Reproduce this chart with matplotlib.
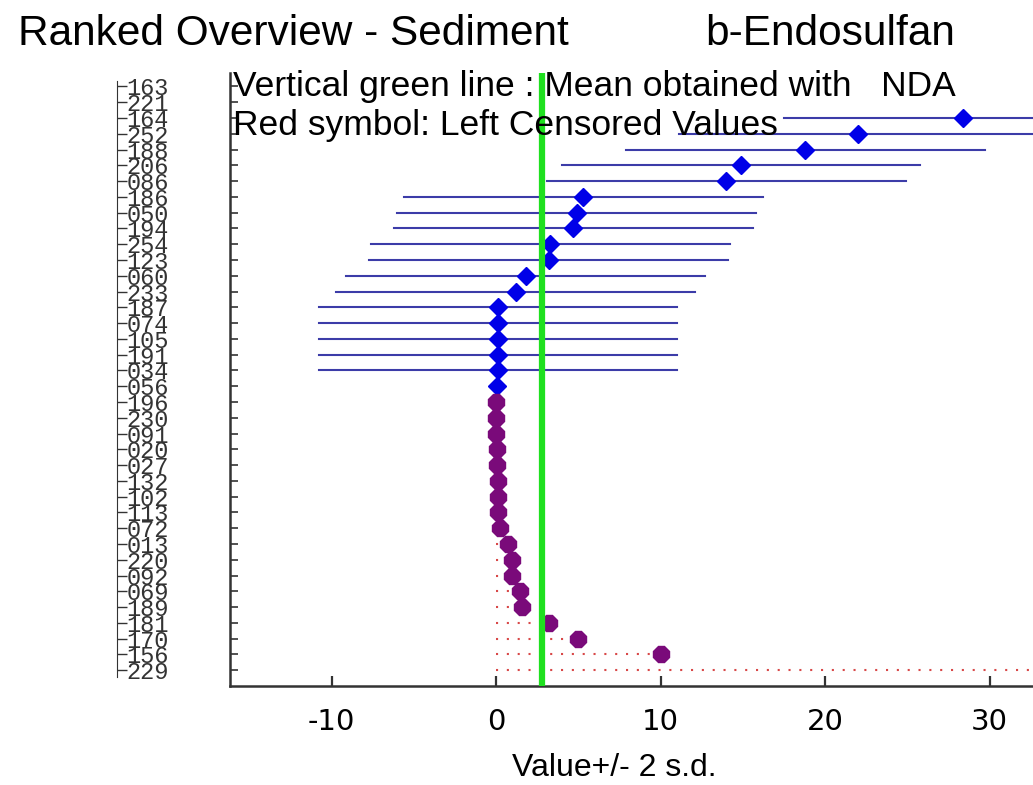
import matplotlib
matplotlib.use("Agg")
import matplotlib.pyplot as plt

plt.rcParams["axes.unicode_minus"] = False

# lab codes, ranked top to bottom
labs = ["163", "221", "164", "252", "188", "206", "086", "186", "050", "194",
        "254", "123", "060", "233", "187", "074", "105", "191", "034", "056",
        "196", "230", "091", "020", "027", "132", "102", "113", "072", "013",
        "220", "092", "069", "189", "181", "170", "156", "229"]
# reported values (first two and last one fall beyond the visible range)
values = [55.0, 48.0, 28.4, 22.0, 18.8, 14.9, 14.0, 5.3, 4.9, 4.7,
          3.3, 3.2, 1.8, 1.2, 0.12, 0.12, 0.12, 0.12, 0.12, 0.03,
          0.0, 0.0, 0.02, 0.03, 0.05, 0.1, 0.12, 0.15, 0.25, 0.7,
          0.95, 1.0, 1.45, 1.6, 3.2, 5.0, 10.0, 50.0]
two_sd = [10.9] * 19 + [0.0] * 19
censored = [False] * 20 + [True] * 18
mean_nda = 2.8

n = len(labs)
ypos = [n - i for i in range(n)]

fig = plt.figure(figsize=(10.33, 7.85), dpi=100)
W, H = 1033.0, 785.0
ax = fig.add_axes([230 / W, 99 / H, (W - 230) / W, 613 / H])
ax.set_xlim(-16.17, 32.64)
ax.set_ylim(0, n + 0.85)

for v, s, c, y in zip(values, two_sd, censored, ypos):
    if c:
        ax.plot([0, v], [y, y], color="#d84848", lw=1.5,
                linestyle=(0, (1, 4.2)), zorder=1)
        ax.plot(v, y, marker="8", ms=12, color="#7a0a7a", zorder=3)
    else:
        if s > 0:
            ax.plot([v - s, v + s], [y, y], color="#3c3ca8", lw=1.5, zorder=1)
        ax.plot(v, y, marker="D", ms=9, color="#0000e8", zorder=3)

ax.axvline(mean_nda, color="#1fe01f", lw=4.5, zorder=4)

for sp in ["top", "right"]:
    ax.spines[sp].set_visible(False)
for sp in ["left", "bottom"]:
    ax.spines[sp].set_color("#333333")
    ax.spines[sp].set_linewidth(1.8)

ax.set_yticks(ypos)
ax.set_yticklabels([])
ax.tick_params(axis="y", direction="in", length=5.5, width=1.2, color="#333333")
ax.set_xticks([-10, 0, 10, 20, 30])
ax.tick_params(axis="x", direction="in", length=7, width=1.6, color="#333333",
               labelsize=21, pad=16)
for t in ax.get_xticklabels():
    t.set_family("DejaVu Sans")
ax.set_xlabel("Value+/- 2 s.d.", fontsize=23, family="Liberation Sans")
ax.xaxis.set_label_coords(0.479, -0.11)

# separate label column on the left
ax2 = fig.add_axes([117 / W, 99 / H, 0.06, 613 / H])
ax2.set_ylim(0, n + 0.85)
ax2.patch.set_visible(False)
for sp in ["top", "right", "bottom"]:
    ax2.spines[sp].set_visible(False)
ax2.spines["left"].set_bounds(0.6, n + 0.35)
ax2.spines["left"].set_color("#333333")
ax2.set_xticks([])
ax2.set_yticks(ypos, labs, ha="left", family="Liberation Mono", fontsize=17,
               color="#333333")
ax2.tick_params(axis="y", direction="in", length=7, width=1.0,
                color="#333333", pad=-7)

fig.text(18 / W, 1 - 45 / H, "Ranked Overview - Sediment", fontsize=30.5,
         family="Liberation Sans", va="baseline")
fig.text(705 / W, 1 - 45 / H, "b-Endosulfan", fontsize=30.5,
         family="Liberation Sans", va="baseline")
fig.text(233 / W, 1 - 96 / H, "Vertical green line : Mean obtained with   NDA",
         fontsize=25.5, family="Liberation Sans", va="baseline", zorder=2)
fig.text(233 / W, 1 - 135 / H, "Red symbol: Left Censored Values",
         fontsize=25.5, family="Liberation Sans", va="baseline", zorder=2)

fig.savefig("out.png", dpi=100)
